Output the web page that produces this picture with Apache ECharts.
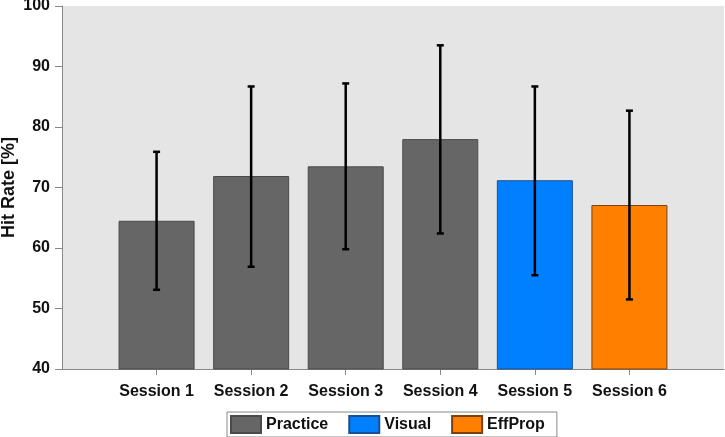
<!DOCTYPE html>
<html>
<head>
<meta charset="utf-8">
<script src="https://cdn.jsdelivr.net/npm/echarts@6/dist/echarts.min.js"></script>
<style>html,body{margin:0;padding:0;background:#fff}#c{width:725px;height:437px}</style>
</head>
<body>
<div id="c"></div>
<script>
var categories = ['Session 1', 'Session 2', 'Session 3', 'Session 4', 'Session 5', 'Session 6'];
var groups = ['Practice', 'Practice', 'Practice', 'Practice', 'Visual', 'EffProp'];
var hitRate = [64.5, 71.9, 73.5, 78.0, 71.2, 67.1];
var errLow = [53.1, 56.9, 59.8, 62.4, 55.5, 51.5];
var errHigh = [75.9, 86.7, 87.2, 93.5, 86.7, 82.7];
var legendNames = ['Practice', 'Visual', 'EffProp'];
var yTicks = [40, 50, 60, 70, 80, 90, 100];

var colors = {
  Practice: { fill: '#666666', border: '#4a4a4a' },
  Visual: { fill: '#0080ff', border: '#1a4f8f' },
  EffProp: { fill: '#ff8000', border: '#7a4010' }
};

var font = 'Liberation Sans, Arial, sans-serif';
var xPositions = categories.map(function (c, i) { return i + 1; });

var barSeries = legendNames.map(function (name) {
  var data = [];
  categories.forEach(function (c, i) {
    if (groups[i] === name) data.push([i + 1, hitRate[i]]);
  });
  return {
    name: name,
    type: 'bar',
    data: data,
    barWidth: 76,
    barGap: '-100%',
    itemStyle: { color: colors[name].fill, borderColor: colors[name].border, borderWidth: 1 },
    z: 2
  };
});

var errData = categories.map(function (c, i) { return [i + 1, errLow[i], errHigh[i]]; });

var chart = echarts.init(document.getElementById('c'), null, { renderer: 'canvas' });
chart.setOption({
  animation: false,
  grid: {
    left: 62, right: 1, top: 6, bottom: 68,
    outerBoundsMode: 'none', containLabel: false,
    show: true, backgroundColor: '#e5e5e5', borderWidth: 0
  },
  legend: {
    data: legendNames,
    left: 227, top: 412,
    orient: 'horizontal',
    icon: 'rect',
    itemWidth: 30, itemHeight: 17, itemGap: 20,
    padding: [3, 12, 3, 3],
    borderColor: '#888', borderWidth: 1,
    textStyle: { fontFamily: font, fontWeight: 'bold', fontSize: 16, color: '#111' },
    selectedMode: false
  },
  xAxis: {
    type: 'value', min: 0, max: 7, interval: 1,
    splitLine: { show: false },
    axisLine: { show: true, lineStyle: { color: '#888', width: 1 } },
    axisTick: { show: true, length: 6, customValues: xPositions, lineStyle: { color: '#888' } },
    axisLabel: {
      customValues: xPositions,
      margin: 15,
      fontFamily: font, fontWeight: 'bold', fontSize: 16, color: '#111',
      formatter: function (v) { return categories[Math.round(v) - 1] || ''; }
    }
  },
  yAxis: {
    type: 'value', min: yTicks[0], max: yTicks[yTicks.length - 1], interval: 10,
    name: 'Hit Rate [%]', nameLocation: 'middle', nameGap: 44, nameMoveOverlap: false,
    nameTextStyle: { fontFamily: font, fontWeight: 'bold', fontSize: 18, color: '#111' },
    splitLine: { show: false },
    axisLine: { show: true, lineStyle: { color: '#888', width: 1 } },
    axisTick: { show: true, length: 7, lineStyle: { color: '#888' } },
    axisLabel: { margin: 12, fontFamily: font, fontWeight: 'bold', fontSize: 16, color: '#111' }
  },
  series: barSeries.concat([{
    name: 'err',
    type: 'custom',
    data: errData,
    z: 5,
    encode: { x: 0, y: [1, 2] },
    renderItem: function (params, api) {
      var x = api.value(0);
      var lo = api.coord([x, api.value(1)]);
      var hi = api.coord([x, api.value(2)]);
      var cw = 3.5;
      var st = { stroke: '#000', lineWidth: 2.5 };
      return {
        type: 'group',
        children: [
          { type: 'line', shape: { x1: hi[0], y1: hi[1], x2: lo[0], y2: lo[1] }, style: st },
          { type: 'line', shape: { x1: hi[0] - cw, y1: hi[1], x2: hi[0] + cw, y2: hi[1] }, style: st },
          { type: 'line', shape: { x1: lo[0] - cw, y1: lo[1], x2: lo[0] + cw, y2: lo[1] }, style: st }
        ]
      };
    }
  }])
});
</script>
</body>
</html>
